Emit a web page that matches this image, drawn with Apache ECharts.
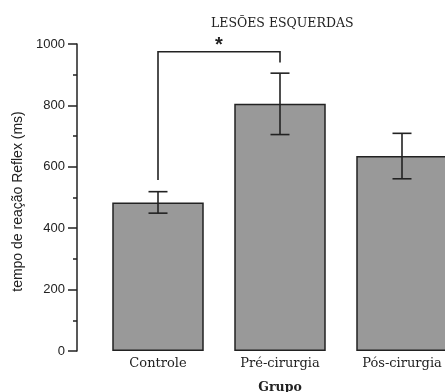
<!DOCTYPE html>
<html>
<head>
<meta charset="utf-8">
<script src="https://cdn.jsdelivr.net/npm/echarts@6/dist/echarts.min.js"></script>
<style>
  html, body { margin: 0; padding: 0; background: #fff; }
  #chart { width: 445px; height: 392px; }
</style>
</head>
<body>
<div id="chart"></div>
<script>
// Reaction time per group (mean ± error)
const categories = ['Controle', 'Pré-cirurgia', 'Pós-cirurgia'];
const means = [484, 805, 635];
const errors = [35, 100, 74];
const yTicks = [0, 200, 400, 600, 800, 1000];

// Significance bracket between Controle and Pré-cirurgia
const bracketFrom = ['Controle', 557];
const bracketTop = 975;
const bracketTo = ['Pré-cirurgia', 940];
const bracketMark = '*';

const ink = '#222';
const serif = 'DejaVu Serif';
const sans = 'Liberation Sans';
const yMin = yTicks[0];
const yMax = yTicks[yTicks.length - 1];

const chart = echarts.init(document.getElementById('chart'), null, { renderer: 'canvas' });

chart.setOption({
  animation: false,
  backgroundColor: '#fff',
  title: {
    text: 'LESÕES ESQUERDAS',
    left: 211,
    top: 17,
    padding: 0,
    textStyle: { fontFamily: serif, fontSize: 12.5, fontWeight: 'normal', color: ink }
  },
  // grid 0 carries the value axis, detached to the left of the plot area (grid 1)
  grid: [
    { left: 77, width: 10, top: 44, bottom: 41, containLabel: false, outerBoundsMode: 'none' },
    { left: 97, width: 366, top: 44, bottom: 41, containLabel: false, outerBoundsMode: 'none' }
  ],
  xAxis: [
    { gridIndex: 0, type: 'value', show: false },
    {
      gridIndex: 1,
      type: 'category',
      data: categories,
      axisLine: { show: false },
      axisTick: { show: false },
      axisLabel: { fontFamily: serif, fontSize: 13, color: ink, margin: 6 },
      name: 'Grupo',
      nameLocation: 'middle',
      nameGap: 30,
      nameTextStyle: { fontFamily: serif, fontSize: 12.5, fontWeight: 'bold', color: ink }
    }
  ],
  yAxis: [
    {
      gridIndex: 0,
      type: 'value',
      min: yMin,
      max: yMax,
      interval: 200,
      axisLine: { show: true, lineStyle: { color: ink, width: 1.5 } },
      axisTick: { show: true, inside: false, length: 9, lineStyle: { color: ink, width: 1.5 } },
      minorTick: { show: true, splitNumber: 2, length: 4, lineStyle: { color: ink, width: 1.5 } },
      splitLine: { show: false },
      axisLabel: {
        fontFamily: sans, fontSize: 13, color: ink, margin: 12,
        formatter: v => String(v)
      },
      name: 'tempo de reação Reflex (ms)',
      nameLocation: 'middle',
      nameGap: 52,
      nameTextStyle: { fontFamily: sans, fontSize: 14, color: ink, padding: [0, 8, 0, 0] }
    },
    { gridIndex: 1, type: 'value', min: yMin, max: yMax, show: false }
  ],
  series: [
    {
      type: 'bar',
      xAxisIndex: 1,
      yAxisIndex: 1,
      data: means,
      barWidth: '75%',
      itemStyle: { color: '#999999', borderColor: ink, borderWidth: 1.5 },
      z: 2
    },
    {
      type: 'custom',
      xAxisIndex: 1,
      yAxisIndex: 1,
      z: 3,
      data: means.map((m, i) => [i, m - errors[i], m + errors[i]]),
      renderItem: function (params, api) {
        const lo = api.coord([api.value(0), api.value(1)]);
        const hi = api.coord([api.value(0), api.value(2)]);
        const half = 9.5;
        const style = { stroke: ink, lineWidth: 1.6, fill: null };
        return {
          type: 'group',
          children: [
            { type: 'line', shape: { x1: hi[0], y1: hi[1], x2: lo[0], y2: lo[1] }, style },
            { type: 'line', shape: { x1: hi[0] - half, y1: hi[1], x2: hi[0] + half, y2: hi[1] }, style },
            { type: 'line', shape: { x1: lo[0] - half, y1: lo[1], x2: lo[0] + half, y2: lo[1] }, style }
          ]
        };
      }
    },
    {
      type: 'custom',
      xAxisIndex: 1,
      yAxisIndex: 1,
      z: 3,
      clip: false,
      data: [[0]],
      renderItem: function (params, api) {
        const a = api.coord(bracketFrom);
        const b = api.coord([bracketFrom[0], bracketTop]);
        const c = api.coord([bracketTo[0], bracketTop]);
        const d = api.coord(bracketTo);
        return {
          type: 'group',
          children: [
            {
              type: 'polyline',
              shape: { points: [a, b, c, d] },
              style: { stroke: ink, lineWidth: 1.6, fill: null }
            },
            {
              type: 'text',
              style: {
                text: bracketMark,
                x: (b[0] + c[0]) / 2,
                y: b[1] + 4,
                align: 'center',
                verticalAlign: 'bottom',
                font: 'bold 20px ' + sans,
                fill: ink
              }
            }
          ]
        };
      }
    }
  ]
});
</script>
</body>
</html>
